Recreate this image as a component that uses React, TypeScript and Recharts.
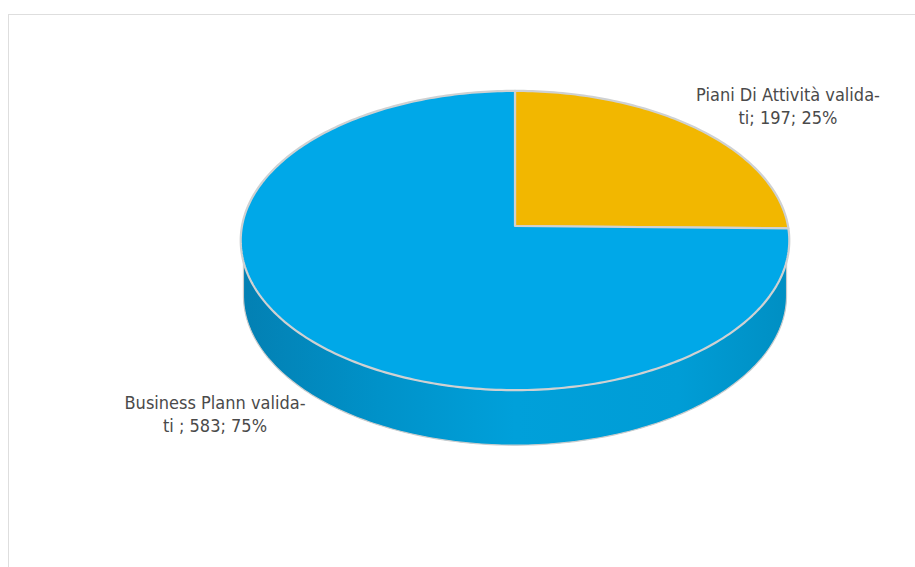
import { PieChart, Pie } from 'recharts'

// values
const categories = ['Piani Di Attività validati', 'Business Plann validati']
const values = [197, 583]
const shares = ['25%', '75%']
const labelLines = [
  ['Piani Di Attività valida-', 'ti; 197; 25%'],
  ['Business Plann valida-', 'ti ; 583; 75%'],
]
const colors = ['#F2B700', '#00A8E8']

const data = categories.map((name, i) => ({
  name,
  value: values[i],
  share: shares[i],
  fill: colors[i],
}))

const WIDTH = 915
const HEIGHT = 567
const CX = 515
const CY = 226
const RADIUS = 273

// tilt of the fake 3D disc
const PERSPECTIVE = 0.097
const SQUASH = 0.543
const DEPTH = 55
const WALL_INSET = 0.99
const LABEL_POS = [
  { x: 788, y: 101 },
  { x: 215, y: 409 },
]

function project(cx: number, cy: number, r: number, deg: number, extraY = 0, scaleX = 1) {
  const a = (deg * Math.PI) / 180
  const u = Math.cos(a)
  const v = Math.sin(a)
  const w = 1 + PERSPECTIVE * v
  return {
    x: cx + (scaleX * r * u) / w,
    y: cy - (SQUASH * r * v) / w + extraY,
  }
}

function arcPoints(from: number, to: number) {
  const n = Math.max(2, Math.ceil(Math.abs(to - from)))
  return Array.from({ length: n + 1 }, (_, i) => from + ((to - from) * i) / n)
}

function toPath(pts: { x: number; y: number }[], close = true) {
  const d = pts.map((p, i) => `${i ? 'L' : 'M'}${p.x.toFixed(2)} ${p.y.toFixed(2)}`).join(' ')
  return close ? d + ' Z' : d
}

// top face of a slice, from the angles recharts computed
function TopSlice(props: any) {
  const { cx, cy, outerRadius, startAngle, endAngle, fill } = props
  const pts = arcPoints(startAngle, endAngle).map((d) => project(cx, cy, outerRadius, d))
  return (
    <path
      d={toPath([{ x: cx, y: cy }, ...pts])}
      fill={fill}
      stroke="#cfd1d2"
      strokeWidth={2.2}
      strokeLinejoin="round"
    />
  )
}

// front wall, only for the part of a slice that faces the viewer
function WallSlice(props: any) {
  const { cx, cy, outerRadius, startAngle, endAngle } = props
  const edge = (Math.asin(PERSPECTIVE) * 180) / Math.PI
  const hi = Math.min(Math.max(startAngle, endAngle), -edge)
  const lo = Math.max(Math.min(startAngle, endAngle), -180 + edge)
  if (hi <= lo) return <g />
  const angles = arcPoints(hi, lo)
  const top = angles.map((d) => project(cx, cy, outerRadius, d, 0, WALL_INSET))
  const bottom = angles.map((d) => project(cx, cy, outerRadius, d, DEPTH, WALL_INSET)).reverse()
  return (
    <path d={toPath([...top, ...bottom])} fill="url(#wallGradient)" stroke="#c9cccd" strokeWidth={1.2} />
  )
}

function renderLabel(props: any) {
  const lines = labelLines[props.index]
  const pos = LABEL_POS[props.index]
  return (
    <text
      x={pos.x}
      y={pos.y}
      textAnchor="middle"
      fill="#4a4a4a"
      fontFamily="'DejaVu Sans Condensed', 'DejaVu Sans', sans-serif"
      fontSize={18}
      style={{ fontStretch: 'condensed' }}
    >
      {lines.map((line, i) => (
        <tspan key={i} x={pos.x} dy={i === 0 ? 0 : 23}>
          {line}
        </tspan>
      ))}
    </text>
  )
}

export default function App() {
  return (
    <div
      style={{
        position: 'absolute',
        left: 0,
        top: 0,
        width: WIDTH,
        height: HEIGHT,
        overflow: 'hidden',
        background: '#fff',
      }}
    >
      <div
        style={{
          position: 'absolute',
          left: 8,
          top: 14,
          width: WIDTH,
          height: HEIGHT,
          borderTop: '1.5px solid #dedede',
          borderLeft: '1.5px solid #dedede',
        }}
      />
      <div style={{ position: 'absolute', left: 0, top: 0 }}>
        <PieChart width={WIDTH} height={HEIGHT} margin={{ top: 0, right: 0, bottom: 0, left: 0 }}>
          <defs>
            <linearGradient id="wallGradient" x1="0" y1="0" x2="1" y2="0">
              <stop offset="0%" stopColor="#0380B3" />
              <stop offset="25%" stopColor="#0092C9" />
              <stop offset="50%" stopColor="#00A0DA" />
              <stop offset="80%" stopColor="#009DD6" />
              <stop offset="100%" stopColor="#008FC3" />
            </linearGradient>
          </defs>
          <Pie
            data={data}
            dataKey="value"
            nameKey="name"
            cx={CX}
            cy={CY}
            outerRadius={RADIUS}
            startAngle={90}
            endAngle={-270}
            shape={WallSlice}
            label={false}
            labelLine={false}
            isAnimationActive={false}
          />
          <Pie
            data={data}
            dataKey="value"
            nameKey="name"
            cx={CX}
            cy={CY}
            outerRadius={RADIUS}
            startAngle={90}
            endAngle={-270}
            shape={TopSlice}
            label={renderLabel}
            labelLine={false}
            isAnimationActive={false}
          />
        </PieChart>
      </div>
    </div>
  )
}
